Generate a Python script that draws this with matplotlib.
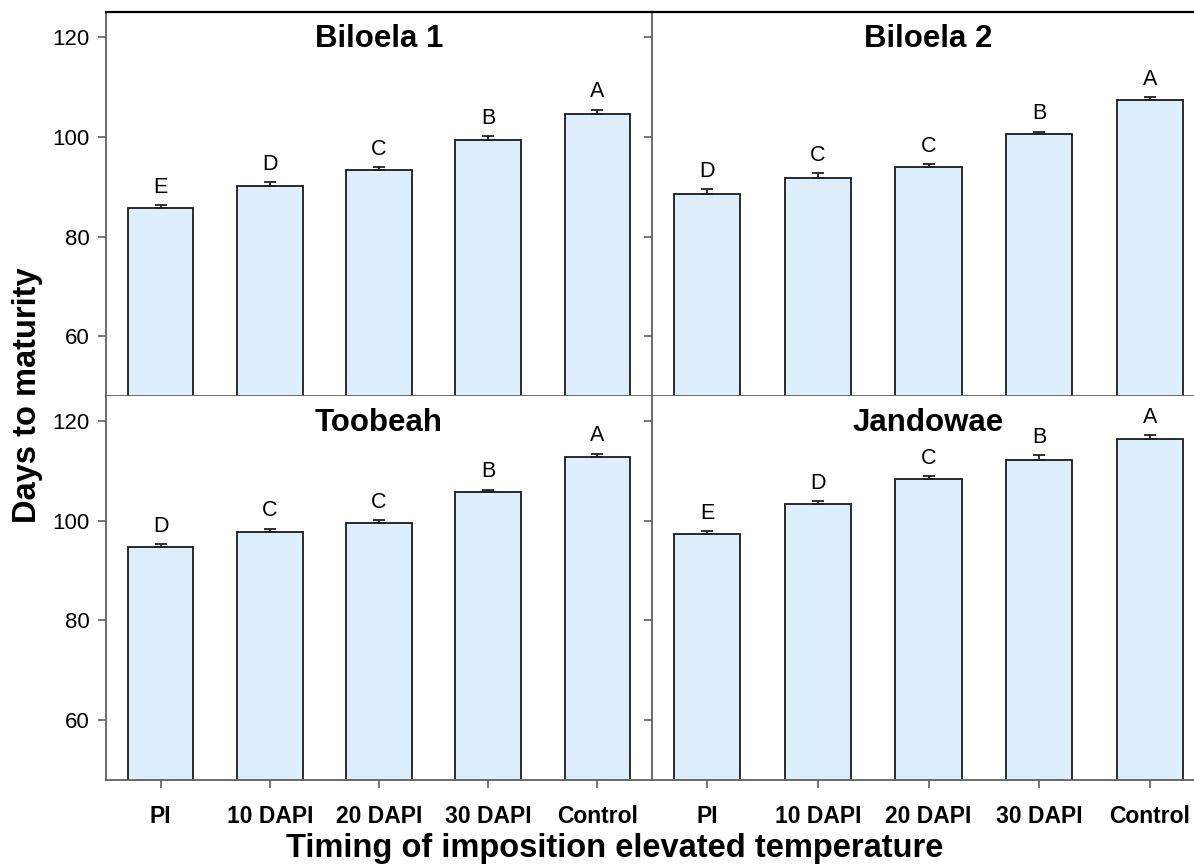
import numpy as np
import matplotlib
matplotlib.use("Agg")
import matplotlib.pyplot as plt

plt.rcParams['font.family'] = ['Liberation Sans', 'DejaVu Sans']

treatments = ['PI', '10 DAPI', '20 DAPI', '30 DAPI', 'Control']
cultivars = ['Biloela 1', 'Biloela 2', 'Toobeah', 'Jandowae']

days = {
    'Biloela 1': [85.8, 90.2, 93.4, 99.4, 104.6],
    'Biloela 2': [88.6, 91.8, 94.0, 100.5, 107.4],
    'Toobeah':   [94.7, 97.8, 99.5, 105.7, 112.8],
    'Jandowae':  [97.4, 103.3, 108.3, 112.1, 116.3],
}
sem = {
    'Biloela 1': [0.5, 0.7, 0.55, 0.7, 0.85],
    'Biloela 2': [0.85, 0.9, 0.55, 0.55, 0.6],
    'Toobeah':   [0.65, 0.6, 0.6, 0.55, 0.65],
    'Jandowae':  [0.5, 0.6, 0.65, 1.0, 0.85],
}
letters = {
    'Biloela 1': ['E', 'D', 'C', 'B', 'A'],
    'Biloela 2': ['D', 'C', 'C', 'B', 'A'],
    'Toobeah':   ['D', 'C', 'C', 'B', 'A'],
    'Jandowae':  ['E', 'D', 'C', 'B', 'A'],
}

W, H = 1194, 865
fig = plt.figure(figsize=(W / 100, H / 100), dpi=100)

# panel boxes in pixels: left, right, top, bottom
xl, xm, xr = 106, 652, 1205
yt, ym, yb = 12.3, 396, 780
boxes = [
    (xl, xm, yt, ym), (xm, xr, yt, ym),
    (xl, xm, ym, yb), (xm, xr, ym, yb),
]

barcolor = '#ddeefd'
axcolor = '#606060'
x = np.arange(len(treatments))

for i, (name, (l, r, t, b)) in enumerate(zip(cultivars, boxes)):
    ax = fig.add_axes([l / W, 1 - b / H, (r - l) / W, (b - t) / H])
    vals = days[name]
    err = sem[name]
    ax.bar(x, vals, width=0.6, color=barcolor, edgecolor='#1a1a1a',
           linewidth=1.3, zorder=2)
    ax.errorbar(x, vals, yerr=[np.zeros(len(err)), err], fmt='none',
                ecolor='#222222', elinewidth=1.3, capsize=4.3, capthick=1.3,
                zorder=3)
    for xi, v, e, s in zip(x, vals, err, letters[name]):
        ax.annotate(s, (xi, v + e), xytext=(0, 8.8), textcoords='offset points',
                    ha='center', va='baseline', fontsize=15.5)
    ax.text(2, 118, name, ha='center', va='baseline', fontsize=22.5,
            fontweight='bold')

    ax.set_xlim(-0.5, 4.5)
    ax.set_ylim(48, 125)
    ax.set_yticks([60, 80, 100, 120])
    ax.set_xticks(x)

    for side in ['left', 'bottom']:
        ax.spines[side].set_color(axcolor)
        ax.spines[side].set_linewidth(1.3)
    ax.spines['right'].set_visible(False)
    if i < 2:
        ax.spines['top'].set_color('black')
        ax.spines['top'].set_linewidth(1.6)
    else:
        ax.spines['top'].set_visible(False)

    ax.tick_params(direction='out', length=6, width=1.2, color=axcolor)
    ax.tick_params(axis='y', pad=6, labelsize=16)
    ax.tick_params(axis='x', pad=12, labelsize=16.5)

    if i % 2 == 1:
        ax.set_yticklabels([])
    if i < 2:
        ax.set_xticklabels([])
    else:
        ax.set_xticklabels(treatments, fontweight='bold')

fig.text(28 / W, 1 - 395 / H, 'Days to maturity', rotation=90, ha='center',
         va='center', fontsize=23.5, fontweight='bold')
fig.text(615 / W, 1 - 857 / H, 'Timing of imposition elevated temperature',
         ha='center', va='baseline', fontsize=23.5, fontweight='bold')

fig.savefig('out.png', dpi=100)
